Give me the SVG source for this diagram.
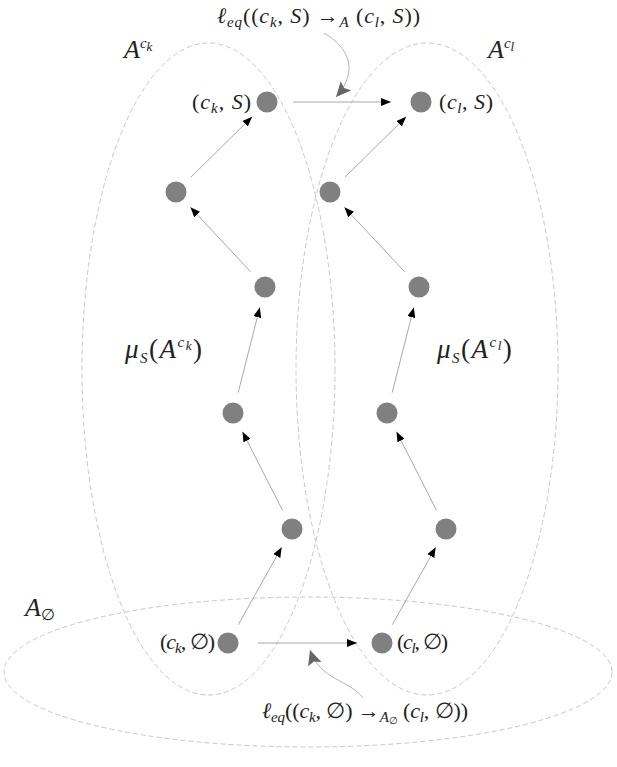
<svg xmlns="http://www.w3.org/2000/svg" width="617" height="767" viewBox="0 0 617 767">
<style>
.bg{fill:#ffffff}
.set{fill:none;stroke:#c8c8c8;stroke-width:1;stroke-dasharray:5,3}
.node{fill:#808080}
.edge{fill:none;stroke:#a8a8a8;stroke-width:1}
.ptr{fill:none;stroke:#b4b4b4;stroke-width:1}
text{font-family:"Liberation Serif","DejaVu Serif",serif;font-size:22px;fill:#222}
.i{font-style:italic}
.sub{font-size:15px;font-style:italic}
.big{font-size:26px}
.mu{font-size:27px;letter-spacing:1.5px}
</style>
<defs>
<marker id="ah" markerUnits="userSpaceOnUse" markerWidth="10" markerHeight="8" refX="10" refY="4" orient="auto">
<path d="M0,0 L10,4 L0,8 z" fill="#000"/>
</marker>
<marker id="ptrh" markerUnits="userSpaceOnUse" markerWidth="16" markerHeight="14" refX="15" refY="7" orient="auto">
<path d="M0,0 L15,7 L0,14 L3,7 z" fill="#666"/>
</marker>
</defs>
<rect class="bg" x="0" y="0" width="617" height="767"/>

<g id="sets">
<ellipse id="set-Ack" class="set" cx="208.5" cy="369" rx="126.5" ry="326"/>
<ellipse id="set-Acl" class="set" cx="427" cy="369" rx="131" ry="326"/>
<ellipse id="set-Aempty" class="set" cx="308" cy="672" rx="304" ry="75"/>
</g>

<g id="connectors">
<line class="edge" x1="238.3" y1="624.7" x2="281.7" y2="547.3" marker-end="url(#ah)"/>
<line class="edge" x1="282.5" y1="510.3" x2="242.5" y2="431.7" marker-end="url(#ah)"/>
<line class="edge" x1="238.2" y1="392.6" x2="259.8" y2="307.4" marker-end="url(#ah)"/>
<line class="edge" x1="250.6" y1="271.7" x2="190.4" y2="207.3" marker-end="url(#ah)"/>
<line class="edge" x1="190.9" y1="177.2" x2="252.1" y2="116.8" marker-end="url(#ah)"/>

<line class="edge" x1="392.3" y1="624.7" x2="435.7" y2="547.3" marker-end="url(#ah)"/>
<line class="edge" x1="436.5" y1="510.3" x2="396.5" y2="431.7" marker-end="url(#ah)"/>
<line class="edge" x1="392.2" y1="392.6" x2="413.8" y2="307.4" marker-end="url(#ah)"/>
<line class="edge" x1="404.6" y1="271.7" x2="344.4" y2="207.3" marker-end="url(#ah)"/>
<line class="edge" x1="344.9" y1="177.2" x2="406.1" y2="116.8" marker-end="url(#ah)"/>

<line class="edge" x1="293" y1="102" x2="391" y2="102" marker-end="url(#ah)"/>
<line class="edge" x1="258" y1="643" x2="357" y2="643" marker-end="url(#ah)"/>

<path class="ptr" d="M324,33 C348,47 360,70 336,97" marker-end="url(#ptrh)"/>
<path class="ptr" d="M363,698 C350,680 320,680 310,650" marker-end="url(#ptrh)"/>
</g>

<g id="node-ck-S"><circle class="node" cx="267" cy="102" r="10.5"/>
<text x="251" y="109" text-anchor="end" textLength="59" lengthAdjust="spacing">(<tspan class="i">c</tspan><tspan class="sub" dy="4">k</tspan><tspan dy="-4">, </tspan><tspan class="i">S</tspan>)</text></g>
<g id="node-ck-2"><circle class="node" cx="176" cy="192" r="10.5"/></g>
<g id="node-ck-3"><circle class="node" cx="265" cy="287" r="10.5"/></g>
<g id="node-ck-4"><circle class="node" cx="233" cy="413" r="10.5"/></g>
<g id="node-ck-5"><circle class="node" cx="292" cy="529" r="10.5"/></g>
<g id="node-ck-empty"><circle class="node" cx="228" cy="643" r="10.5"/>
<text x="215" y="649" text-anchor="end" textLength="55" lengthAdjust="spacing">(<tspan class="i">c</tspan><tspan class="sub" dy="4">k</tspan><tspan dy="-4">, ∅)</tspan></text></g>

<g id="node-cl-S"><circle class="node" cx="421" cy="102" r="10.5"/>
<text x="439" y="109" textLength="54" lengthAdjust="spacing">(<tspan class="i">c</tspan><tspan class="sub" dy="4">l</tspan><tspan dy="-4">, </tspan><tspan class="i">S</tspan>)</text></g>
<g id="node-cl-2"><circle class="node" cx="330" cy="192" r="10.5"/></g>
<g id="node-cl-3"><circle class="node" cx="419" cy="287" r="10.5"/></g>
<g id="node-cl-4"><circle class="node" cx="387" cy="413" r="10.5"/></g>
<g id="node-cl-5"><circle class="node" cx="446" cy="529" r="10.5"/></g>
<g id="node-cl-empty"><circle class="node" cx="382" cy="643" r="10.5"/>
<text x="397" y="649" textLength="51" lengthAdjust="spacing">(<tspan class="i">c</tspan><tspan class="sub" dy="4">l</tspan><tspan dy="-4">, ∅)</tspan></text></g>

<g id="labels">
<text x="217" y="23" textLength="203" lengthAdjust="spacing"><tspan class="i">ℓ</tspan><tspan class="sub" dy="4">eq</tspan><tspan dy="-4">((</tspan><tspan class="i">c</tspan><tspan class="sub" dy="4">k</tspan><tspan dy="-4">, </tspan><tspan class="i">S</tspan>) →<tspan class="sub" dy="4">A</tspan><tspan dy="-4"> (</tspan><tspan class="i">c</tspan><tspan class="sub" dy="4">l</tspan><tspan dy="-4">, </tspan><tspan class="i">S</tspan>))</text>
<text x="262" y="718" textLength="206" lengthAdjust="spacing"><tspan class="i">ℓ</tspan><tspan class="sub" dy="4">eq</tspan><tspan dy="-4">((</tspan><tspan class="i">c</tspan><tspan class="sub" dy="4">k</tspan><tspan dy="-4">, ∅) →</tspan><tspan class="sub" dy="4">A</tspan><tspan font-size="10" dy="2">∅</tspan><tspan dy="-6"> (</tspan><tspan class="i">c</tspan><tspan class="sub" dy="4">l</tspan><tspan dy="-4">, ∅))</tspan></text>
<text class="big" x="124" y="58"><tspan class="i">A</tspan><tspan class="sub" font-size="18" dy="-10">c</tspan><tspan font-size="13" font-style="italic" dy="3">k</tspan></text>
<text class="big" x="488" y="58"><tspan class="i">A</tspan><tspan class="sub" font-size="18" dy="-10">c</tspan><tspan font-size="13" font-style="italic" dy="3">l</tspan></text>
<text class="big" x="25" y="616"><tspan class="i">A</tspan><tspan font-size="16" dy="4">∅</tspan></text>
<text class="mu" x="125" y="358"><tspan class="i">μ</tspan><tspan class="sub" font-size="19" dy="5">S</tspan><tspan dy="-5">(</tspan><tspan class="i">A</tspan><tspan class="sub" font-size="18" dy="-11">c</tspan><tspan font-size="13" font-style="italic" dy="3">k</tspan><tspan dy="8">)</tspan></text>
<text class="mu" x="437" y="358"><tspan class="i">μ</tspan><tspan class="sub" font-size="19" dy="5">S</tspan><tspan dy="-5">(</tspan><tspan class="i">A</tspan><tspan class="sub" font-size="18" dy="-11">c</tspan><tspan font-size="13" font-style="italic" dy="3">l</tspan><tspan dy="8">)</tspan></text>
</g>
</svg>
